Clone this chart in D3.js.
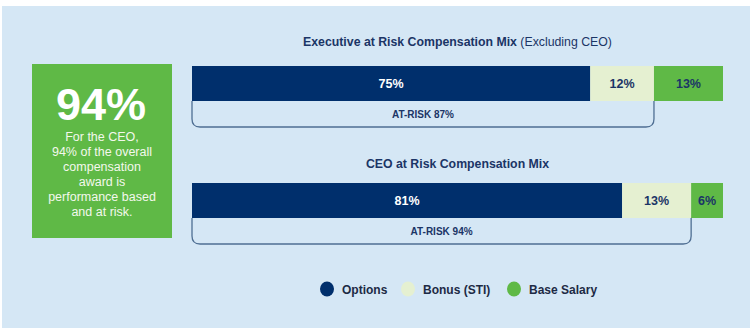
<!DOCTYPE html>
<html><head><meta charset="utf-8">
<script src="https://cdn.jsdelivr.net/npm/d3@7"></script>
<style>
html,body{margin:0;padding:0;background:#fff;}
svg{display:block;font-family:"Liberation Sans",Arial,Helvetica,sans-serif;}
</style></head>
<body><div id="chart"></div>
<script>
const charts = ["Executive at Risk Compensation Mix", "CEO at Risk Compensation Mix"];
const chartSubtitles = [" (Excluding CEO)", ""];
const seriesNames = ["Options", "Bonus (STI)", "Base Salary"];
const options = [75, 81];
const bonus = [12, 13];
const baseSalary = [13, 6];
const atRisk = [87, 94];
const calloutValue = "94%";
const calloutLines = ["For the CEO,", "94% of the overall", "compensation", "award is", "performance based", "and at risk."];
const colors = ["#002f6c", "#e5f0d1", "#5fb946"];
const labelColors = ["#ffffff", "#1b3566", "#1b3566"];

const W = 750, H = 328;
const titleGap = [20, 15];
const svg = d3.select("#chart").append("svg").attr("width", W).attr("height", H);
svg.append("rect").attr("x", 2).attr("y", 6).attr("width", W - 2).attr("height", H - 6).attr("fill", "#d5e7f5");

// callout box
const cb = svg.append("g");
cb.append("rect").attr("x", 32).attr("y", 64).attr("width", 140).attr("height", 174).attr("fill", "#5fb946");
cb.append("text").attr("x", 101).attr("y", 120).attr("text-anchor", "middle")
  .attr("fill", "#fff").attr("font-size", 45).attr("font-weight", "bold").text(calloutValue);
cb.selectAll("text.l").data(calloutLines).join("text").attr("class", "l")
  .attr("x", 102).attr("y", (d, i) => 141 + i * 15).attr("text-anchor", "middle")
  .attr("fill", "#f3f8ec").attr("font-size", 12.5).text(d => d);

const x = d3.scaleLinear().domain([0, 100]).range([192, 723]);
const y = d3.scaleBand().domain(charts).range([66, 300]).paddingInner(0);
const barH = 35;
const rows = charts.map((c, i) => ({chart: c, Options: options[i], "Bonus (STI)": bonus[i], "Base Salary": baseSalary[i], atRisk: atRisk[i], sub: chartSubtitles[i]}));
const stack = d3.stack().keys(seriesNames)(rows);

rows.forEach((r, i) => {
  const top = y(r.chart);
  const t = svg.append("text").attr("x", (x(0) + x(100)) / 2).attr("y", top - titleGap[i])
    .attr("text-anchor", "middle").attr("font-size", 12.3).attr("fill", "#1b3566");
  t.append("tspan").attr("font-weight", "bold").text(r.chart);
  if (r.sub) t.append("tspan").text(r.sub);
  const x0 = x(0), x1 = x(r.atRisk), yb = top + barH, ye = top + barH + 26, rr = 8;
  svg.append("path").attr("fill", "none").attr("stroke", "#4f6f93").attr("stroke-width", 1.3)
    .attr("d", `M${x0},${yb} V${ye - rr} Q${x0},${ye} ${x0 + rr},${ye} H${x1 - rr} Q${x1},${ye} ${x1},${ye - rr} V${yb - 0.5}`);
  svg.append("text").attr("x", (x0 + x1) / 2).attr("y", ye - 9).attr("text-anchor", "middle")
    .attr("font-size", 10).attr("font-weight", "bold").attr("fill", "#1b3566").text("AT-RISK " + r.atRisk + "%");
});

stack.forEach((s, k) => {
  const g = svg.append("g");
  g.selectAll("rect").data(s).join("rect")
    .attr("x", d => x(d[0])).attr("y", d => y(d.data.chart))
    .attr("width", d => x(d[1]) - x(d[0])).attr("height", barH).attr("fill", colors[k]);
  g.selectAll("text").data(s).join("text")
    .attr("x", d => (x(d[0]) + x(d[1])) / 2).attr("y", d => y(d.data.chart) + barH / 2 + 4.5)
    .attr("text-anchor", "middle").attr("font-size", 12.5).attr("font-weight", "bold")
    .attr("fill", labelColors[k]).text(d => (d[1] - d[0]) + "%");
});

const legX = [327, 408, 514];
const lg = svg.append("g");
seriesNames.forEach((n, i) => {
  lg.append("ellipse").attr("cx", legX[i]).attr("cy", 289).attr("rx", 7).attr("ry", 7.5).attr("fill", colors[i]);
  lg.append("text").attr("x", legX[i] + 15).attr("y", 293.5).attr("font-size", 12).attr("font-weight", "bold")
    .attr("fill", "#1d2a44").text(n);
});
</script></body></html>
